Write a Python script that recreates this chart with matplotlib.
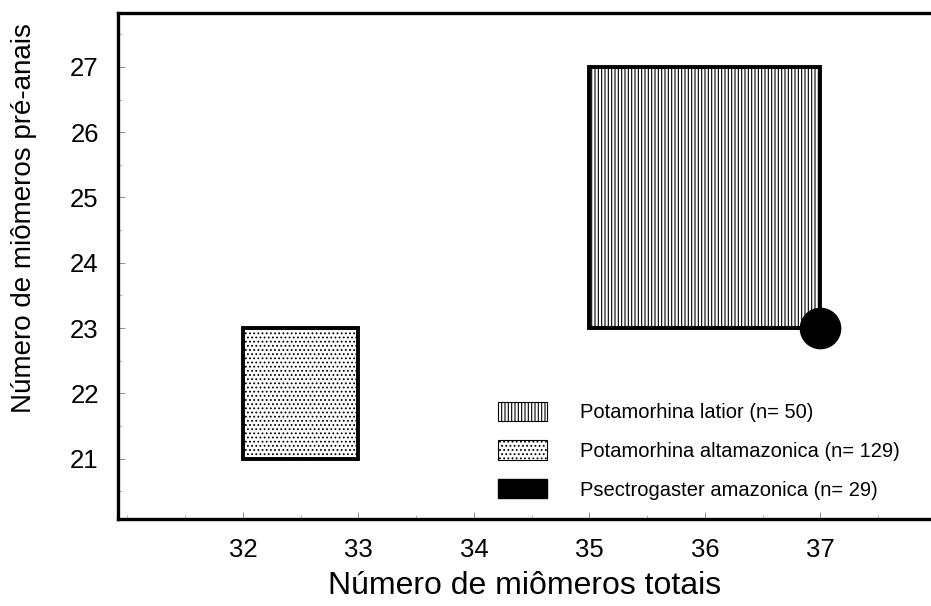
import matplotlib.pyplot as plt
import matplotlib.patches as mpatches
from matplotlib.ticker import MultipleLocator

plt.rcParams['font.family'] = ['Liberation Sans', 'DejaVu Sans']
plt.rcParams['hatch.linewidth'] = 0.8

# ranges of myomeres per species (x = total, y = pre-anal)
species = ["Potamorhina latior (n= 50)",
           "Potamorhina altamazonica (n= 129)",
           "Psectrogaster amazonica (n= 29)"]
x_min = [35, 32, 37]
x_max = [37, 33, 37]
y_min = [23, 21, 23]
y_max = [27, 23, 23]
hatches = ['|||||', '....', None]

x_ticks = [32, 33, 34, 35, 36, 37]
y_ticks = [21, 22, 23, 24, 25, 26, 27]

fig = plt.figure(figsize=(9.31, 6.06), dpi=100)
ax = fig.add_axes([0.127, 0.144, 0.8733, 0.834])

for i in range(2):
    rect = mpatches.Rectangle((x_min[i], y_min[i]), x_max[i] - x_min[i],
                              y_max[i] - y_min[i], facecolor='white',
                              edgecolor='black', hatch=hatches[i], lw=2.8,
                              zorder=2)
    ax.add_patch(rect)

# single-point species
ax.plot(x_min[2], y_min[2], 'o', color='black', markersize=29, zorder=3)

ax.set_xlim(30.92, 37.96)
ax.set_ylim(20.08, 27.82)
ax.set_xticks(x_ticks)
ax.set_yticks(y_ticks)
ax.xaxis.set_minor_locator(MultipleLocator(0.5))
ax.yaxis.set_minor_locator(MultipleLocator(0.5))
ax.tick_params(axis='both', which='major', direction='in', length=5,
               width=0.6, labelsize=18.5, color='0.5')
ax.tick_params(axis='both', which='minor', direction='in', length=3,
               width=0.5, color='0.6')
ax.tick_params(axis='x', pad=14)
ax.tick_params(axis='y', pad=14)
for s in ['left', 'bottom', 'top']:
    ax.spines[s].set_linewidth(2.4)
ax.spines['right'].set_visible(False)

ax.set_xlabel("Número de miômeros totais", fontsize=23, labelpad=6)
ax.set_ylabel("Número de miômeros pré-anais", fontsize=20)
ax.yaxis.set_label_coords(-0.1, 0.595)

handles = [
    mpatches.Patch(facecolor='white', edgecolor='black', hatch=hatches[0], lw=0.8),
    mpatches.Patch(facecolor='white', edgecolor='black', hatch=hatches[1], lw=0.8),
    mpatches.Patch(facecolor='black', edgecolor='black'),
]
ax.legend(handles, species, loc='lower left', bbox_to_anchor=(0.4576, 0.022),
          borderaxespad=0, frameon=False, fontsize=14.5, handlelength=2.4,
          handleheight=1.1, handletextpad=1.65, labelspacing=0.9)

fig.savefig('out.png', dpi=100, facecolor='white')
